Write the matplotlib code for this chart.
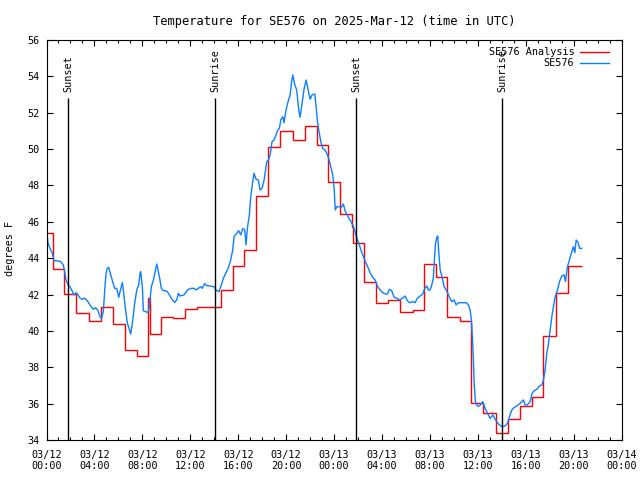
import numpy as np
import pandas as pd
import matplotlib
matplotlib.use('Agg')
import matplotlib.pyplot as plt
from matplotlib.ticker import MultipleLocator, FuncFormatter

start = pd.Timestamp('2025-03-12 00:00')

# analysis: hour (since 03/12 00:00 UTC) where each value starts, and the value
ana_hours = [0.0, 0.52, 1.5, 2.5, 3.55, 4.52, 5.55, 6.55, 7.53, 8.5, 8.62,
             9.53, 10.58, 11.56, 12.59, 14.57, 15.53, 16.5, 17.5, 18.5, 19.5,
             20.6, 21.6, 22.55, 23.52, 24.5, 25.48, 25.6, 26.5, 27.5, 28.53,
             29.5, 30.56, 31.5, 32.5, 33.45, 34.5, 35.45, 36.46, 37.5, 38.5,
             39.52, 40.5, 41.47, 42.53, 43.5]
ana_temp = [45.37, 43.39, 42.03, 40.97, 40.55, 41.3, 40.36, 38.95, 38.62, 41.8, 39.81,
            40.75, 40.69, 41.19, 41.3, 42.25, 43.57, 44.45, 47.42, 50.13, 51.0,
            50.5, 51.27, 50.23, 48.17, 46.43, 45.73, 44.82, 42.71, 41.52, 41.68,
            41.06, 41.15, 43.68, 42.95, 40.78, 40.55, 36.02, 35.47, 34.37, 35.14,
            35.87, 36.35, 39.72, 42.07, 43.57]
ana_end = 44.67

# observations
obs_hours = [0.0, 0.13, 0.29, 0.49, 0.63, 0.9, 1.18, 1.4, 1.52, 1.63, 1.8, 1.96,
             2.16, 2.3, 2.49, 2.63, 2.8, 2.99, 3.18, 3.4, 3.69, 3.91, 4.1, 4.3,
             4.47, 4.58, 4.74, 4.86, 4.97, 5.08, 5.19, 5.36, 5.52, 5.69, 5.86, 6.03,
             6.14, 6.33, 6.41, 6.58, 6.75, 6.91, 7.03, 7.2, 7.36, 7.53, 7.7, 7.8,
             7.86, 8.0, 8.08, 8.28, 8.47, 8.58, 8.75, 8.92, 9.12, 9.2, 9.31, 9.47,
             9.58, 9.75, 9.92, 10.08, 10.31, 10.5, 10.7, 10.87, 11.0, 11.14, 11.48, 11.76,
             12.04, 12.31, 12.48, 12.65, 12.87, 13.0, 13.2, 13.37, 13.7, 13.98, 14.2, 14.4,
             14.54, 14.76, 14.98, 15.21, 15.38, 15.54, 15.65, 15.88, 16.04, 16.21, 16.38, 16.54,
             16.65, 16.76, 16.93, 17.04, 17.21, 17.32, 17.49, 17.68, 17.82, 17.99, 18.16, 18.26,
             18.38, 18.52, 18.66, 18.82, 18.99, 19.16, 19.27, 19.43, 19.55, 19.72, 19.82, 19.99,
             20.16, 20.33, 20.44, 20.55, 20.72, 20.88, 21.05, 21.16, 21.33, 21.49, 21.66, 21.77,
             21.89, 22.0, 22.16, 22.39, 22.5, 22.61, 22.72, 22.89, 23.05, 23.25, 23.39, 23.55,
             23.72, 23.89, 24.0, 24.1, 24.22, 24.44, 24.61, 24.77, 24.94, 25.17, 25.33, 25.56,
             25.75, 25.9, 26.11, 26.28, 26.45, 26.67, 26.86, 27.0, 27.23, 27.42, 27.61, 27.84,
             28.06, 28.26, 28.45, 28.61, 28.81, 29.0, 29.23, 29.45, 29.73, 29.92, 30.12, 30.28,
             30.57, 30.76, 30.95, 31.18, 31.4, 31.57, 31.74, 31.87, 32.01, 32.15, 32.28, 32.35,
             32.45, 32.57, 32.65, 32.74, 32.85, 32.99, 33.18, 33.4, 33.62, 33.82, 34.02, 34.18,
             34.37, 34.57, 34.79, 35.02, 35.21, 35.35, 35.46, 35.58, 35.69, 35.79, 35.96, 36.13,
             36.41, 36.6, 36.8, 37.02, 37.25, 37.47, 37.72, 38.0, 38.27, 38.47, 38.63, 38.83,
             39.02, 39.25, 39.47, 39.67, 39.8, 39.94, 40.13, 40.36, 40.53, 40.69, 40.92, 41.14,
             41.34, 41.47, 41.61, 41.75, 41.89, 42.03, 42.17, 42.3, 42.45, 42.64, 42.81, 43.0,
             43.2, 43.31, 43.47, 43.64, 43.84, 43.97, 44.09, 44.2, 44.37, 44.48, 44.67]
obs_temp = [45.59, 44.82, 44.54, 44.27, 43.86, 43.86, 43.81, 43.63, 43.26, 42.8, 42.53, 42.43,
            42.16, 41.98, 42.1, 41.98, 41.8, 41.74, 41.8, 41.66, 41.37, 41.19, 41.28, 41.11,
            40.78, 40.66, 41.06, 42.25, 43.17, 43.44, 43.5, 43.08, 42.71, 42.34, 42.34, 41.85,
            42.16, 42.66, 42.25, 41.24, 40.42, 40.09, 39.83, 40.6, 41.52, 42.25, 42.53, 43.17,
            43.26, 42.43, 41.11, 41.06, 41.0, 41.33, 42.43, 42.8, 43.44, 43.68, 43.35, 42.8,
            42.34, 42.21, 42.21, 42.16, 41.92, 41.7, 41.57, 41.7, 42.07, 41.92, 41.98, 42.25,
            42.34, 42.34, 42.25, 42.34, 42.43, 42.34, 42.6, 42.49, 42.47, 42.43, 42.21, 42.16,
            42.43, 42.89, 43.2, 43.53, 43.94, 44.45, 45.18, 45.37, 45.51, 45.28, 45.64, 45.55,
            44.73, 45.64, 46.38, 47.38, 48.21, 48.67, 48.34, 48.3, 47.75, 47.85, 48.3, 48.76,
            49.31, 49.4, 49.68, 50.41, 50.5, 50.78, 51.01, 51.14, 51.6, 51.78, 51.45, 52.15,
            52.61, 52.98, 53.62, 54.08, 53.53, 53.25, 52.15, 51.75, 52.52, 53.29, 53.8, 53.47,
            53.07, 52.74, 52.98, 53.03, 52.33, 51.51, 51.05, 50.41, 50.04, 49.95, 49.77, 49.49,
            49.03, 48.58, 47.85, 46.65, 46.83, 46.83, 46.8, 46.98, 46.56, 46.28, 46.1, 45.83,
            45.46, 45.09, 44.73, 44.36, 44.08, 43.72, 43.44, 43.2, 42.95, 42.8, 42.47, 42.25,
            42.1, 42.03, 42.03, 42.29, 42.21, 41.85, 41.8, 41.7, 41.8, 41.92, 41.66, 41.55,
            41.61, 41.55, 41.8, 41.92, 42.03, 42.34, 42.47, 42.25, 42.25, 42.53, 42.89, 43.72,
            44.73, 45.15, 45.22, 44.27, 43.35, 43.02, 42.43, 42.21, 41.85, 41.61, 41.7, 41.43,
            41.55, 41.55, 41.55, 41.55, 41.43, 41.15, 40.6, 39.13, 37.12, 36.11, 35.87, 35.87,
            36.11, 35.74, 35.47, 35.19, 35.38, 35.1, 34.88, 34.73, 34.77, 34.92, 35.28, 35.65,
            35.79, 35.87, 35.98, 36.11, 36.2, 35.93, 35.93, 36.11, 36.57, 36.71, 36.79, 36.97,
            37.03, 37.3, 37.85, 38.77, 39.31, 40.05, 40.78, 41.33, 41.88, 42.25, 42.71, 43.02,
            43.08, 42.71, 43.53, 43.9, 44.36, 44.63, 44.3, 45.0, 44.85, 44.54, 44.54]

sun_hours = [1.82, 14.08, 25.84, 38.05]
sun_names = ['Sunset', 'Sunrise', 'Sunset', 'Sunrise']

plt.rcParams['font.family'] = 'DejaVu Sans Mono'
plt.rcParams['font.size'] = 7.3

fig = plt.figure(figsize=(6.4, 4.8), dpi=100)
ax = fig.add_axes([46.5 / 640, 40 / 480, 575.2 / 640, 400 / 480])

ax.stairs(ana_temp, np.append(ana_hours, ana_end), baseline=None,
          color='#ff0000', lw=1.0, label='SE576 Analysis')
ax.plot(obs_hours, obs_temp, color='#0a80ff', lw=1.0, label='SE576')

# sunrise / sunset markers
line_top = 52.8
ax.vlines(sun_hours, 34, line_top, color='black', lw=1.0)
for h, name in zip(sun_hours, sun_names):
    ax.text(h, 53.15, name, rotation=90, ha='center', va='bottom')

ax.set_xlim(0, 48)
ax.set_ylim(34, 56)
ax.xaxis.set_major_locator(MultipleLocator(4))
ax.xaxis.set_minor_locator(MultipleLocator(1))
ax.yaxis.set_major_locator(MultipleLocator(2))
ax.xaxis.set_major_formatter(FuncFormatter(
    lambda h, pos: (start + pd.Timedelta(hours=h)).strftime('%m/%d\n%H:%M')))
ax.tick_params(which='both', direction='in', top=True, right=True, width=0.8)
ax.tick_params(which='major', length=4.5)
ax.tick_params(which='minor', length=2.2)
ax.tick_params(axis='x', pad=7)
ax.tick_params(axis='y', pad=5)

ax.set_title('Temperature for SE576 on 2025-Mar-12 (time in UTC)', pad=11)
ax.set_ylabel('degrees F')
ax.yaxis.set_label_coords(-0.055, 0.48)

ax.legend(loc='upper right', bbox_to_anchor=(0.99, 1.0), frameon=False,
          markerfirst=False, handlelength=2.8, labelspacing=0.1,
          borderaxespad=0.3, handletextpad=0.6)

fig.savefig('out.png', dpi=100)
